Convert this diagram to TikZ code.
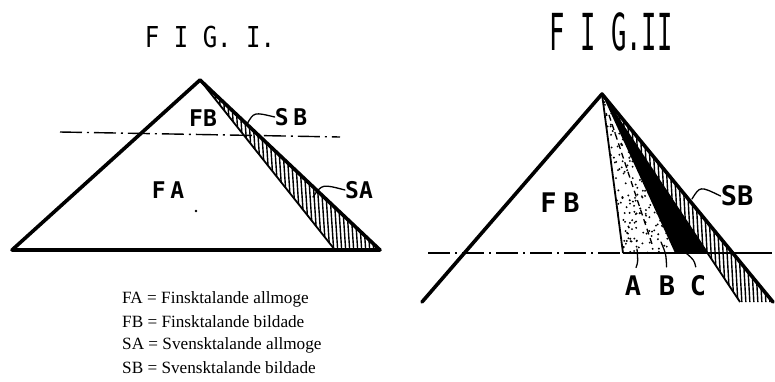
\documentclass[tikz,border=0pt]{standalone}
\usepackage{fontspec}
\setmainfont{Liberation Serif}
\newfontfamily\handfont{DejaVu Sans Mono}
\begin{document}
\begin{tikzpicture}[x=1pt,y=-1pt,
  outline/.style={line width=3.6pt,line cap=round,line join=round},
  thinedge/.style={line width=1.8pt},
  dashdot/.style={line width=1.4pt,dash pattern=on 22pt off 5pt on 2pt off 5pt},
  hatch/.style={line width=1.4pt},
  leader/.style={line width=1.3pt,line cap=round},
  tag/.style={font=\handfont\bfseries\fontsize{#1}{#1}\selectfont,inner sep=0pt},
  legend/.style={font=\fontsize{17.2}{23}\selectfont,anchor=west,inner sep=0pt}]
\useasboundingbox (0,0) rectangle (775,381);

% Fig. I
\node (titleI) at (210,37) {\handfont\fontsize{24}{24}\selectfont\scalebox{1}[1.2]{F I G. I.}};
\coordinate (topI) at (200,80);
\coordinate (leftI) at (12,250);
\coordinate (rightI) at (380,250);
\coordinate (stripI) at (335,250);
\begin{scope}
  \clip (topI) -- (rightI) -- (stripI) -- cycle;
  \foreach \x in {190,194,...,385}
    \draw[hatch] (\x,75) -- (\x+12,255);
\end{scope}
\draw[outline] (leftI) -- (topI) -- (rightI) -- cycle;
\draw[thinedge] (topI) -- (stripI);
\coordinate (dlI) at (60,132);
\coordinate (drI) at (340,137);
\draw[dashdot] (dlI) -- (drI);

\node[tag=23] (fbI) at (203,118) {FB};
\node[tag=23] (sbI) at (291,117) {S\hspace{0.2em}B};
\node[tag=23] (faI) at (168,190) {F\hspace{0.2em}A};
\node[tag=23] (saI) at (359,190) {SA};
\fill (196,211) circle (1.3);
\coordinate (sbIp) at (247,124);
\coordinate (saIp) at (313,197);
\draw[leader] (sbIp) .. controls (254,112) .. (sbI.west);
\draw[leader] (saIp) .. controls (322,184) .. (saI.west);

% legend
\node[legend] (legFA) at (122,299) {FA = Finsktalande allmoge};
\node[legend] (legFB) at (122,322) {FB = Finsktalande bildade};
\node[legend] (legSA) at (122,345) {SA = Svensktalande allmoge};
\node[legend] (legSB) at (122,368) {SB = Svensktalande bildade};

% Fig. II
\node (titleII) at (611,32) {\handfont\fontsize{30}{30}\selectfont\scalebox{0.85}[1.7]{F I G.II}};
\coordinate (topII) at (602,94);
\coordinate (leftII) at (422,302);
\coordinate (rightII) at (773,302);
\coordinate (stripII) at (740,302);
\coordinate (aII) at (623,253);
\coordinate (bII) at (655,253);
\coordinate (cII) at (675,253);
\coordinate (dII) at (707,253);
\begin{scope}
  \clip (topII) -- (aII) -- (cII) -- cycle;
  \pgfmathsetseed{5}
  \foreach \i in {1,...,420} {
    \pgfmathsetmacro\px{600+76*rnd}
    \pgfmathsetmacro\py{94+160*rnd}
    \fill (\px,\py) circle (1.05);
  }
\end{scope}
\draw[line width=1.4pt,dash pattern=on 6pt off 4pt,shorten <=22pt,shorten >=6pt] (topII) -- (bII);
\fill (topII) -- (cII) -- (dII) -- cycle;
\begin{scope}
  \clip (topII) -- (rightII) -- (stripII) -- cycle;
  \foreach \x in {590,594,...,780}
    \draw[hatch] (\x,90) -- (\x+12,305);
\end{scope}
\draw[thinedge] (topII) -- (aII);
\draw[outline] (leftII) -- (topII) -- (rightII);
\draw[thinedge] (topII) -- (stripII);
\coordinate (llII) at (428,253);
\coordinate (lrII) at (772,253);
\draw[dashdot] (llII) -- (aII);
\draw[line width=1.4pt] (aII) -- (lrII);

\node[tag=27] (fbII) at (560,203) {F\hspace{0.25em}B};
\node[tag=27] (sbII) at (737,196) {SB};
\node[tag=27] (labA) at (633,286) {A};
\node[tag=27] (labB) at (667,286) {B};
\node[tag=27] (labC) at (698,286) {C};
\coordinate (ptA) at (637,249);
\coordinate (ptB) at (661,242);
\coordinate (ptC) at (686,253);
\coordinate (ptSB) at (692,199);
\draw[leader,shorten >=9pt] (ptA) .. controls (638,262) .. (labA.north);
\draw[leader,shorten >=9pt] (ptB) .. controls (666,254) .. (labB.north);
\draw[leader,shorten >=9pt] (ptC) .. controls (694,260) .. (labC.north);
\draw[leader] (ptSB) .. controls (700,186) .. (sbII.west);
\end{tikzpicture}
\end{document}
